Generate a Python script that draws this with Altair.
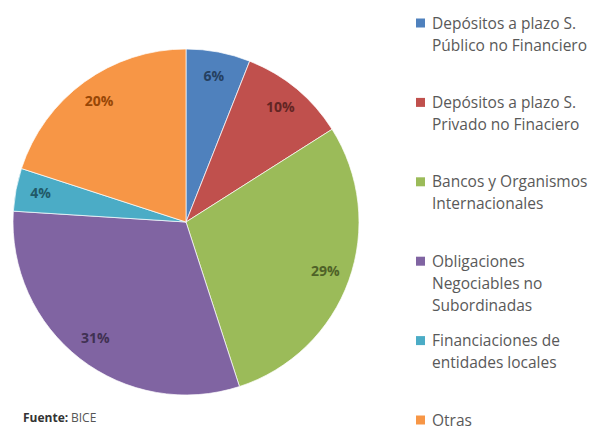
import altair as alt
import pandas as pd

categories = [
    "Depósitos a plazo S. Público no Financiero",
    "Depósitos a plazo S. Privado no Finaciero",
    "Bancos y Organismos Internacionales",
    "Obligaciones Negociables no Subordinadas",
    "Financiaciones de entidades locales",
    "Otras",
]
legend_labels = [
    "Depósitos a plazo S.\nPúblico no Financiero",
    "Depósitos a plazo S.\nPrivado no Finaciero",
    "Bancos y Organismos\nInternacionales",
    "Obligaciones\nNegociables no\nSubordinadas",
    "Financiaciones de\nentidades locales",
    "Otras",
]
values = [6, 10, 29, 31, 4, 20]
slice_colors = ["#4F81BD", "#C0504D", "#9BBB59", "#8064A2", "#4BACC6", "#F79646"]
label_colors = ["#254061", "#632523", "#4F6228", "#403152", "#215968", "#974706"]

df = pd.DataFrame({
    "cat": categories,
    "legend": legend_labels,
    "value": values,
    "idx": list(range(len(values))),
})

W, H = 580, 423
cx, cy, R = 178, 214, 173

base = alt.Chart(df)
color_scale = alt.Scale(domain=categories, range=slice_colors)

pie = base.mark_arc(outerRadius=R, stroke="white", strokeWidth=0.7).encode(
    theta=alt.Theta("value:Q", stack=True),
    color=alt.Color("cat:N", scale=color_scale, legend=None),
    order=alt.Order("idx:Q"),
    x=alt.value(cx),
    y=alt.value(cy),
)

labels = base.transform_calculate(pct="datum.value + '%'").mark_text(
    radius=148, font="Open Sans", fontSize=14, fontWeight="bold"
).encode(
    theta=alt.Theta("value:Q", stack=True),
    order=alt.Order("idx:Q"),
    text="pct:N",
    color=alt.Color("cat:N", scale=alt.Scale(domain=categories, range=label_colors), legend=None),
    x=alt.value(cx),
    y=alt.value(cy),
)

yscale = alt.Scale(domain=categories, range=[15, 412], padding=0)

squares = base.mark_square(size=81, opacity=1).encode(
    x=alt.value(412.5),
    y=alt.Y("cat:N", scale=yscale, axis=None),
    color=alt.Color("cat:N", scale=color_scale, legend=None),
)

legend_text = base.mark_text(
    align="left", baseline="alphabetic", dy=5.5, lineBreak="\n", lineHeight=22,
    font="Open Sans", fontSize=15.5, color="#595959"
).encode(
    x=alt.value(424),
    y=alt.Y("cat:N", scale=yscale, axis=None),
    text="legend:N",
)

footer_bold = alt.Chart(pd.DataFrame({"t": ["Fuente:"]})).mark_text(
    align="left", baseline="top", font="Open Sans", fontSize=12, fontWeight="bold", color="#333333"
).encode(x=alt.value(15), y=alt.value(405), text="t:N")

footer_norm = alt.Chart(pd.DataFrame({"t": ["BICE"]})).mark_text(
    align="left", baseline="top", font="Open Sans", fontSize=12, color="#555555"
).encode(x=alt.value(63), y=alt.value(405), text="t:N")

chart = alt.layer(pie, labels, squares, legend_text, footer_bold, footer_norm).resolve_scale(
    color="independent"
).properties(
    width=W, height=H, padding=0, autosize=alt.AutoSizeParams(type="none")
).configure_view(stroke=None)

chart.save("out.html", embed_options={"renderer": "svg", "actions": False})
